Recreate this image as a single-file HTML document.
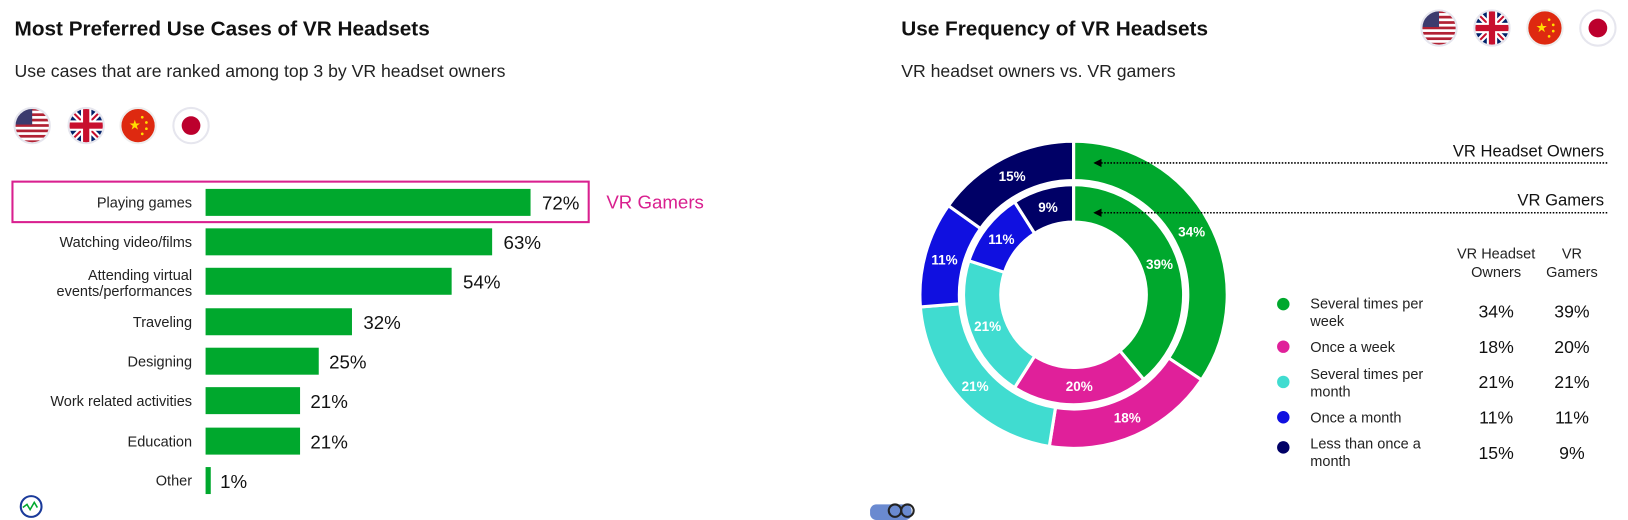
<!DOCTYPE html>
<html><head><meta charset="utf-8"><style>
html,body{margin:0;padding:0;background:#fff;}
svg{display:block;font-family:"Liberation Sans",sans-serif;}
</style></head><body>
<svg width="1628" height="520" viewBox="0 0 1568 501" preserveAspectRatio="none" xmlns="http://www.w3.org/2000/svg">
<defs>
<g id="us"><clipPath id="cu"><circle r="17"/></clipPath><g clip-path="url(#cu)"><rect x="-17" y="-17" width="34" height="34" fill="#fff"/>
<rect x="-17" y="-17" width="34" height="2.6" fill="#b22234"/><rect x="-17" y="-11.8" width="34" height="2.6" fill="#b22234"/><rect x="-17" y="-6.6" width="34" height="2.6" fill="#b22234"/><rect x="-17" y="-1.4" width="34" height="2.6" fill="#b22234"/><rect x="-17" y="3.8" width="34" height="2.6" fill="#b22234"/><rect x="-17" y="9" width="34" height="2.6" fill="#b22234"/><rect x="-17" y="14.2" width="34" height="2.6" fill="#b22234"/>
<rect x="-17" y="-17" width="17" height="16" fill="#3c3b6e"/></g><circle r="17" fill="none" stroke="#e6e6ee" stroke-width="2"/></g>
<g id="uk"><clipPath id="ck"><circle r="17"/></clipPath><g clip-path="url(#ck)"><rect x="-17" y="-17" width="34" height="34" fill="#012169"/>
<path d="M-17-17L17 17M17-17L-17 17" stroke="#fff" stroke-width="6"/><path d="M-17-17L17 17M17-17L-17 17" stroke="#c8102e" stroke-width="2"/>
<rect x="-17" y="-5" width="34" height="10" fill="#fff"/><rect x="-5" y="-17" width="10" height="34" fill="#fff"/>
<rect x="-17" y="-3" width="34" height="6" fill="#c8102e"/><rect x="-3" y="-17" width="6" height="34" fill="#c8102e"/></g><circle r="17" fill="none" stroke="#e6e6ee" stroke-width="2"/></g>
<g id="cn"><circle r="17" fill="#de2910" stroke="#eee" stroke-width="2"/><text x="-9" y="4" font-size="13" fill="#ffde00">★</text><circle cx="4" cy="-8" r="1.3" fill="#ffde00"/><circle cx="8" cy="-3" r="1.3" fill="#ffde00"/><circle cx="8" cy="3" r="1.3" fill="#ffde00"/><circle cx="4" cy="8" r="1.3" fill="#ffde00"/></g>
<g id="jp"><circle r="17" fill="#fff" stroke="#e6e6ee" stroke-width="2"/><circle r="9" fill="#bc002d"/></g>
<marker id="ar" markerWidth="8" markerHeight="8" refX="7" refY="4" orient="auto" markerUnits="userSpaceOnUse"><path d="M0 0L8 4L0 8Z" fill="#000"/></marker>
</defs>

<text x="14" y="34" font-size="20" font-weight="bold" fill="#111">Most Preferred Use Cases of VR Headsets</text>
<text x="14" y="74" font-size="17" fill="#222">Use cases that are ranked among top 3 by VR headset owners</text>
<use href="#us" x="31" y="121"/><use href="#uk" x="83" y="121"/><use href="#cn" x="133" y="121"/><use href="#jp" x="184" y="121"/>

<rect x="12" y="175" width="555" height="39" fill="none" stroke="#d9208f" stroke-width="2"/>
<text x="584" y="201" font-size="18" fill="#d9208f">VR Gamers</text>
<g font-size="14" fill="#222" text-anchor="end">
<text x="185" y="200">Playing games</text>
<text x="185" y="238">Watching video/films</text>
<text x="185" y="270">Attending virtual</text><text x="185" y="285">events/performances</text>
<text x="185" y="315">Traveling</text>
<text x="185" y="353">Designing</text>
<text x="185" y="391">Work related activities</text>
<text x="185" y="430">Education</text>
<text x="185" y="468">Other</text>
</g>
<g fill="#00a82d">
<rect x="198" y="182" width="313" height="26"/>
<rect x="198" y="220" width="276" height="26"/>
<rect x="198" y="258" width="237" height="26"/>
<rect x="198" y="297" width="141" height="26"/>
<rect x="198" y="335" width="109" height="26"/>
<rect x="198" y="373" width="91" height="26"/>
<rect x="198" y="412" width="91" height="26"/>
<rect x="198" y="450" width="5" height="26"/>
</g>
<g font-size="18" fill="#111">
<text x="522" y="202">72%</text><text x="485" y="240">63%</text><text x="446" y="278">54%</text>
<text x="350" y="317">32%</text><text x="317" y="355">25%</text><text x="299" y="393">21%</text>
<text x="299" y="432">21%</text><text x="212" y="470">1%</text>
</g>
<circle cx="30" cy="488" r="10" fill="none" stroke="#1a3a9a" stroke-width="2"/>
<path d="M22 489l4-3 3 5 4-7 3 5" stroke="#00a82d" stroke-width="1.5" fill="none"/>

<text x="868" y="34" font-size="20" font-weight="bold" fill="#111">Use Frequency of VR Headsets</text>
<text x="868" y="74" font-size="17" fill="#222">VR headset owners vs. VR gamers</text>
<use href="#us" x="1386" y="27"/><use href="#uk" x="1437" y="27"/><use href="#cn" x="1488" y="27"/><use href="#jp" x="1539" y="27"/>

<g id="donut" stroke="#fff" stroke-width="3"></g>
<g font-size="13" fill="#fff" text-anchor="middle" id="dl" style="font-weight:bold"></g>

<line x1="1548" y1="157" x2="1054" y2="157" stroke="#000" stroke-width="1.5" stroke-dasharray="1.5 1.5" marker-end="url(#ar)"/>
<line x1="1548" y1="205" x2="1054" y2="205" stroke="#000" stroke-width="1.5" stroke-dasharray="1.5 1.5" marker-end="url(#ar)"/>
<text x="1545" y="151" font-size="16" text-anchor="end" fill="#111">VR Headset Owners</text>
<text x="1545" y="198" font-size="16" text-anchor="end" fill="#111">VR Gamers</text>

<g font-size="14" fill="#222" text-anchor="middle">
<text x="1441" y="249">VR Headset</text><text x="1441" y="267">Owners</text>
<text x="1514" y="249">VR</text><text x="1514" y="267">Gamers</text>
</g>
<g font-size="14" fill="#222">
<text x="1262" y="297">Several times per</text><text x="1262" y="314">week</text>
<text x="1262" y="339">Once a week</text>
<text x="1262" y="365">Several times per</text><text x="1262" y="382">month</text>
<text x="1262" y="407">Once a month</text>
<text x="1262" y="432">Less than once a</text><text x="1262" y="449">month</text>
</g>
<circle cx="1236" cy="293" r="6" fill="#00a82d"/><circle cx="1236" cy="334" r="6" fill="#e0209a"/>
<circle cx="1236" cy="368" r="6" fill="#40dcd0"/><circle cx="1236" cy="402" r="6" fill="#1010e0"/><circle cx="1236" cy="431" r="6" fill="#000066"/>
<g font-size="17" fill="#111" text-anchor="middle">
<text x="1441" y="306">34%</text><text x="1514" y="306">39%</text>
<text x="1441" y="340">18%</text><text x="1514" y="340">20%</text>
<text x="1441" y="374">21%</text><text x="1514" y="374">21%</text>
<text x="1441" y="408">11%</text><text x="1514" y="408">11%</text>
<text x="1441" y="442">15%</text><text x="1514" y="442">9%</text>
</g>
<rect x="838" y="486" width="40" height="15" rx="6" fill="#6a8ad0"/>
<circle cx="862" cy="492" r="6" fill="none" stroke="#222" stroke-width="2"/><circle cx="874" cy="492" r="6" fill="none" stroke="#222" stroke-width="2"/>
</svg>
<script>
(function(){
var cx=1034,cy=284,cols=["#00a82d","#e0209a","#40dcd0","#1010e0","#000066"];
var g=document.getElementById("donut"),L=document.getElementById("dl"),ns="http://www.w3.org/2000/svg";
function ring(vals,r0,r1){
 var s=0;vals.forEach(function(v){s+=v});var a=0;
 vals.forEach(function(v,i){
  var a0=a/s*2*Math.PI,a1=(a+v)/s*2*Math.PI;a+=v;
  function P(r,t){return (cx+r*Math.sin(t)).toFixed(2)+" "+(cy-r*Math.cos(t)).toFixed(2);}
  var lg=(a1-a0)>Math.PI?1:0;
  var d="M"+P(r1,a0)+"A"+r1+" "+r1+" 0 "+lg+" 1 "+P(r1,a1)+"L"+P(r0,a1)+"A"+r0+" "+r0+" 0 "+lg+" 0 "+P(r0,a0)+"Z";
  var p=document.createElementNS(ns,"path");p.setAttribute("d",d);p.setAttribute("fill",cols[i]);g.appendChild(p);
  var m=(a0+a1)/2,rm=(r0+r1)/2;
  var t=document.createElementNS(ns,"text");t.setAttribute("x",cx+rm*Math.sin(m));t.setAttribute("y",cy-rm*Math.cos(m)+5);t.textContent=v+"%";L.appendChild(t);
 });
}
ring([34,18,21,11,15],110,148);
ring([39,20,21,11,9],70,106);
})();
</script>
</body></html>
